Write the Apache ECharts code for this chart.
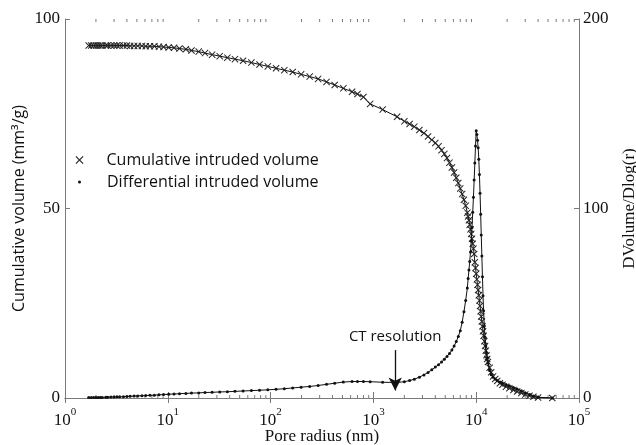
<!DOCTYPE html>
<html>
<head>
<meta charset="utf-8">
<title>Pore radius distribution</title>
<script src="https://cdn.jsdelivr.net/npm/echarts@6.0.0/dist/echarts.min.js"></script>
<style>
html, body { margin: 0; padding: 0; background: #fff; }
#main { width: 636px; height: 445px; }
</style>
</head>
<body>
<div id="main"></div>
<script>
// pore radius (nm)
var radius = [1.7, 1.8, 1.9, 2.0, 2.1, 2.2, 2.3, 2.5, 2.6, 2.8, 3.0, 3.2, 3.4, 3.7, 4.0, 4.3, 4.7, 5.1, 5.6, 6.1,
    6.7, 7.4, 8.2, 9.1, 10.2, 11.5, 13, 15, 17, 20, 23, 27, 32, 38, 45, 54, 65, 78, 94, 113,
    136, 164, 198, 240, 290, 350, 420, 510, 620, 700, 800, 930, 1230, 1700, 2000, 2250, 2500, 2800, 3100, 3400,
    3700, 4000, 4300, 4600, 4900, 5200, 5500, 5800, 6100, 6400, 6700, 7000, 7300, 7600, 7900, 8200, 8350, 8500, 8650, 8800,
    8950, 9100, 9250, 9400, 9550, 9700, 9850, 10000, 10150, 10300, 10450, 10600, 10750, 10900, 11050, 11200, 11350, 11500, 11650, 11800,
    12000, 12200, 12400, 12600, 12800, 13000, 13500, 14000, 14600, 15300, 16000, 17000, 18000, 19500, 21000, 23000, 25000, 27500, 30000, 33000,
    36000, 40000, 55000];

// cumulative intruded volume (mm3/g), left axis
var cumulative = [93.0, 93.0, 93.0, 93.0, 93.0, 93.0, 93.0, 93.0, 93.0, 93.0, 93.0, 93.0, 93.0, 93.0, 93.0, 92.9, 92.9, 92.9, 92.9, 92.8,
    92.8, 92.8, 92.7, 92.6, 92.5, 92.4, 92.2, 92.0, 91.7, 91.4, 91.0, 90.6, 90.2, 89.8, 89.4, 89.0, 88.5, 88.0, 87.5, 87.0,
    86.5, 86.0, 85.4, 84.8, 84.2, 83.4, 82.6, 81.7, 80.8, 80.2, 79.4, 77.6, 76.1, 74.2, 73.0, 72.3, 71.6, 70.7, 69.9, 69.0,
    68.1, 67.3, 66.4, 65.4, 64.4, 63.3, 62.1, 60.8, 59.5, 58.1, 56.7, 55.3, 53.8, 52.3, 50.7, 48.9, 47.9, 46.9, 45.7, 44.5,
    43.3, 42.0, 40.7, 39.4, 38.0, 35.8, 34.3, 32.8, 31.3, 29.9, 28.5, 27.1, 25.7, 24.3, 22.9, 21.5, 20.2, 18.9, 17.6, 16.4,
    15.0, 13.7, 12.5, 11.3, 10.3, 9.5, 8.0, 6.8, 5.7, 5.0, 4.5, 3.9, 3.5, 3.0, 2.6, 2.1, 1.7, 1.3, 0.9, 0.6,
    0.3, 0.1, 0.0];

// differential intruded volume, right axis
var differential = [0.2, 0.2, 0.2, 0.3, 0.3, 0.3, 0.3, 0.4, 0.4, 0.5, 0.5, 0.6, 0.6, 0.7, 0.8, 0.9, 1.0, 1.1, 1.2, 1.3,
    1.4, 1.5, 1.7, 1.8, 2.0, 2.1, 2.3, 2.4, 2.6, 2.7, 2.9, 3.0, 3.2, 3.3, 3.5, 3.7, 3.9, 4.1, 4.3, 4.6,
    4.9, 5.3, 5.7, 6.1, 6.6, 7.2, 7.8, 8.4, 8.7, 8.7, 8.7, 8.6, 8.3, 8.2, 8.6, 9.2, 9.9, 11.0, 12.2, 13.5,
    14.9, 16.3, 17.6, 19.0, 20.4, 21.9, 23.5, 25.3, 27.4, 29.8, 32.5, 35.5, 40.0, 45.5, 51.5, 58.0, 63.0, 67.5, 72.0, 77.0,
    83.0, 90.0, 98.0, 106.0, 115.0, 124.0, 133.0, 141.0, 139.0, 136.0, 132.0, 126.0, 118.0, 108.0, 97.0, 86.0, 75.0, 64.0, 54.0, 46.0,
    38.0, 32.0, 27.5, 24.0, 21.0, 18.5, 14.5, 12.3, 11.0, 10.0, 9.3, 8.5, 7.9, 7.1, 6.4, 5.6, 4.8, 3.8, 2.8, 1.8,
    1.0, 0.4, 0.0];

var seriesNames = ['Cumulative intruded volume', 'Differential intruded volume'];
var leftTicks = [0, 50, 100];
var rightTicks = [0, 100, 200];
var decades = [1, 10, 100, 1000, 10000];
var minorMult = [2, 3, 4, 5, 6, 7, 8, 9];
var ctRadius = 1630;      // CT resolution marker
var ctText = 'CT resolution';

var serif = 'Liberation Serif';
var sans = 'Open Sans';
var axisGray = '#7a7a7a';
var ink = '#111';
var crossPath = 'path://M0,1L1,0L5,4L9,0L10,1L6,5L10,9L9,10L5,6L1,10L0,9L4,5Z';

var cumData = radius.map(function (r, i) { return [r, cumulative[i]]; });
var difData = radius.map(function (r, i) { return [r, differential[i]]; });
var minorTicks = [];
decades.forEach(function (d) {
    minorMult.forEach(function (m) { minorTicks.push([d * m, 0]); });
});

var chart = echarts.init(document.getElementById('main'));

var option = {
    animation: false,
    backgroundColor: '#fff',
    grid: { left: 65, right: 57, top: 19, bottom: 47, containLabel: false, outerBoundsMode: 'none' },
    legend: [{
        left: 75.5, top: 152, orient: 'vertical', padding: 0,
        itemWidth: 8, itemHeight: 8,
        selectedMode: false,
        textStyle: { fontFamily: sans, fontSize: 16, color: ink, padding: [0, 0, 0, 18] },
        data: [{ name: seriesNames[0], icon: crossPath }]
    }, {
        left: 78, top: 174, orient: 'vertical', padding: 0,
        itemWidth: 3, itemHeight: 3,
        selectedMode: false,
        textStyle: { fontFamily: sans, fontSize: 16, color: ink, padding: [0, 0, 0, 21] },
        data: [{ name: seriesNames[1], icon: 'circle' }]
    }],
    xAxis: [{
        type: 'log', logBase: 10, min: 1, max: 100000,
        name: 'Pore radius (nm)', nameLocation: 'middle', nameGap: 30, nameMoveOverlap: false,
        nameTextStyle: { fontFamily: serif, fontSize: 17, color: ink },
        axisLine: { lineStyle: { color: axisGray } },
        axisTick: { inside: true, length: 6, lineStyle: { color: axisGray } },
        splitLine: { show: false },
        axisLabel: {
            margin: 9,
            formatter: function (v) {
                var e = Math.round(Math.log(v) / Math.LN10);
                return '{b|10}{s|' + e + '}';
            },
            rich: {
                b: { fontFamily: serif, fontSize: 17, color: ink, verticalAlign: 'bottom', lineHeight: 22 },
                s: { fontFamily: serif, fontSize: 11, color: ink, verticalAlign: 'top', lineHeight: 12 }
            }
        }
    }, {
        type: 'log', logBase: 10, min: 1, max: 100000, position: 'top',
        axisLine: { lineStyle: { color: axisGray } },
        axisTick: { inside: true, length: 5, lineStyle: { color: axisGray } },
        axisLabel: { show: false },
        splitLine: { show: false }
    }],
    yAxis: [{
        type: 'value', min: leftTicks[0], max: leftTicks[2], interval: leftTicks[1] - leftTicks[0],
        name: 'Cumulative volume (mm³/g)', nameLocation: 'middle', nameGap: 38, nameMoveOverlap: false,
        nameTextStyle: { fontFamily: sans, fontSize: 16, color: ink },
        axisLine: { show: true, lineStyle: { color: axisGray } },
        axisTick: { show: true, inside: true, length: 5, lineStyle: { color: axisGray } },
        axisLabel: { fontFamily: serif, fontSize: 17, color: ink, margin: 5 },
        splitLine: { show: false }
    }, {
        type: 'value', min: rightTicks[0], max: rightTicks[2], interval: rightTicks[1] - rightTicks[0],
        position: 'right',
        name: 'DVolume/Dlog(r)', nameLocation: 'middle', nameGap: 42, nameMoveOverlap: false,
        nameTextStyle: { fontFamily: serif, fontSize: 17, color: ink },
        axisLine: { show: true, lineStyle: { color: axisGray } },
        axisTick: { show: true, inside: true, length: 5, lineStyle: { color: axisGray } },
        axisLabel: { fontFamily: serif, fontSize: 17, color: ink, margin: 4 },
        splitLine: { show: false }
    }],
    series: [{
        name: seriesNames[0],
        type: 'line',
        xAxisIndex: 0, yAxisIndex: 0,
        data: cumData,
        symbol: crossPath, symbolSize: 7, showAllSymbol: true,
        itemStyle: { color: '#222' },
        lineStyle: { color: ink, width: 1 },
        emphasis: { disabled: true },
        z: 3
    }, {
        name: seriesNames[1],
        type: 'line',
        xAxisIndex: 0, yAxisIndex: 1,
        data: difData,
        symbol: 'circle', symbolSize: 3, showAllSymbol: true,
        itemStyle: { color: ink },
        lineStyle: { color: ink, width: 1 },
        emphasis: { disabled: true },
        z: 4,
        markLine: {
            silent: true,
            animation: false,
            symbol: ['none', 'arrow'],
            symbolSize: [10, 13],
            lineStyle: { color: ink, width: 1.3, type: 'solid' },
            label: {
                show: true, position: 'start', distance: 6,
                formatter: ctText,
                fontFamily: sans, fontSize: 15, color: ink
            },
            emphasis: { disabled: true },
            data: [[{ coord: [ctRadius, 25.3] }, { coord: [ctRadius, 4] }]]
        }
    }, {
        // minor ticks 2..9 of each decade, top and bottom
        type: 'custom',
        xAxisIndex: 0, yAxisIndex: 0,
        data: minorTicks,
        silent: true,
        renderItem: function (params, api) {
            var x = api.coord([api.value(0), 0])[0];
            var cs = params.coordSys;
            var st = { stroke: axisGray, lineWidth: 1 };
            return {
                type: 'group',
                children: [
                    { type: 'line', shape: { x1: x, y1: cs.y + cs.height, x2: x, y2: cs.y + cs.height - 3 }, style: st },
                    { type: 'line', shape: { x1: x, y1: cs.y, x2: x, y2: cs.y + 3 }, style: st }
                ]
            };
        }
    }]
};

chart.setOption(option);
</script>
</body>
</html>
